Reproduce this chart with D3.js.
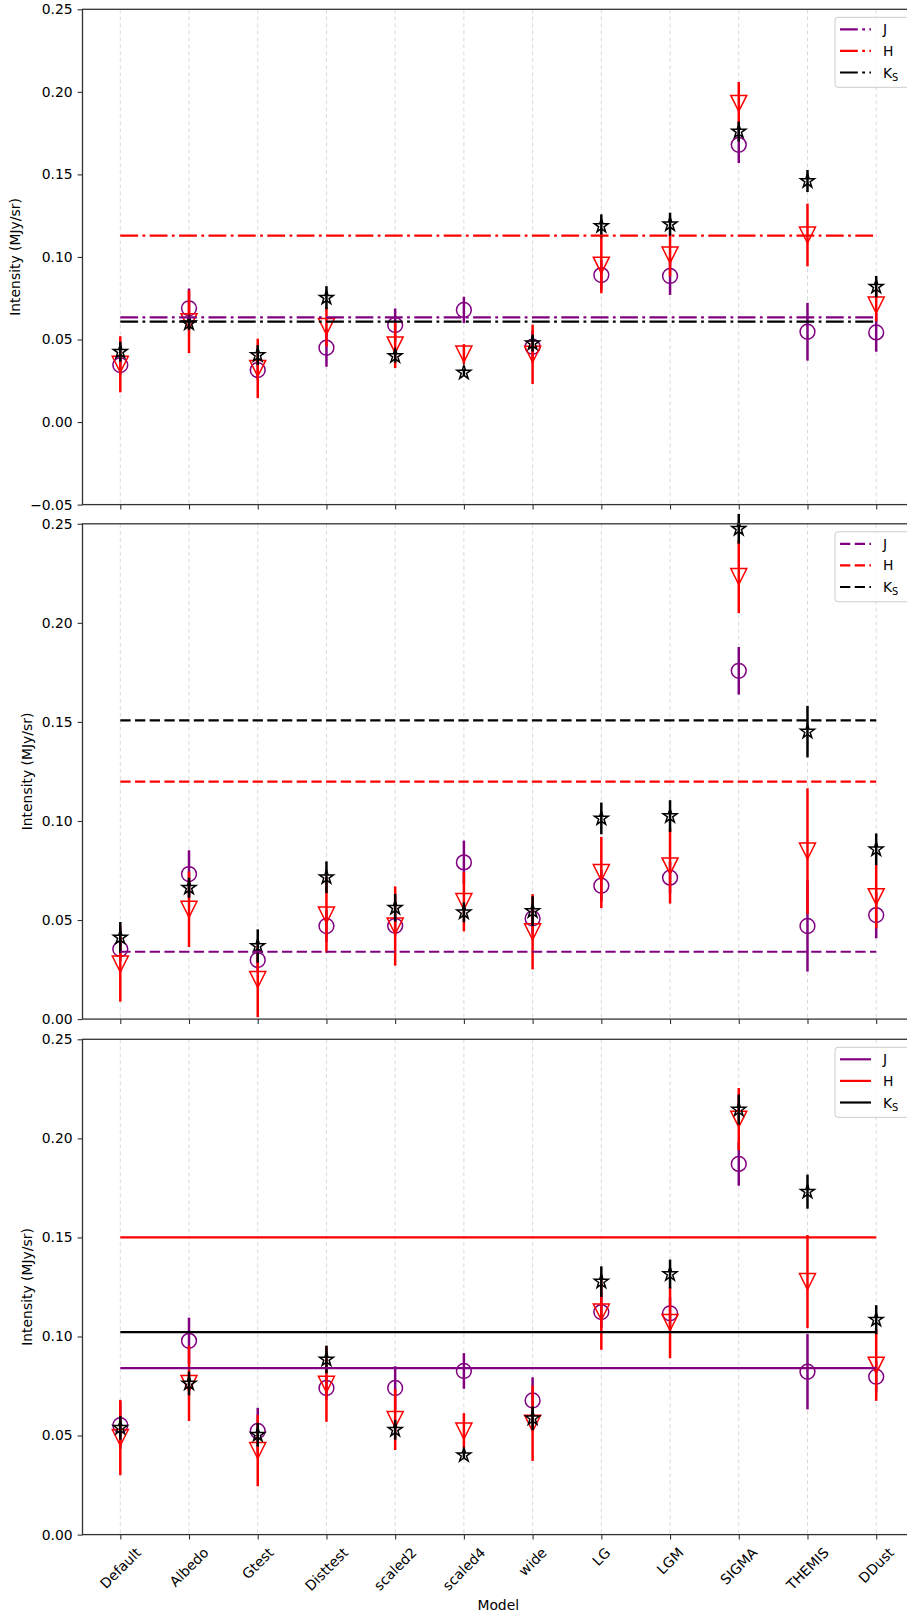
<!DOCTYPE html>
<html><head><meta charset="utf-8">
<script src="https://cdn.jsdelivr.net/npm/d3@7"></script>
<style>
body{margin:0;background:#fff;}
svg{display:block;}
text{font-family:"DejaVu Sans",sans-serif;fill:#000;}
</style>
</head><body>
<svg id="chart" width="907" height="1616"></svg>
<script>
// ---------- data ----------
const categories = ["Default","Albedo","Gtest","Disttest","scaled2","scaled4","wide","LG","LGM","SIGMA","THEMIS","DDust"];
const bandNames = ["J","H","K"];

// Panel 1 (dash-dot reference lines)
const p1J    = [0.0345,0.0689,0.0315,0.0450,0.0588,0.0679,0.0456,0.0890,0.0885,0.1679,0.0547,0.0543];
const p1Jerr = [0.006,0.012,0.006,0.0115,0.010,0.008,0.010,0.009,0.0115,0.011,0.0175,0.0117];
const p1H    = [0.0350,0.0608,0.0325,0.0578,0.0467,0.0412,0.0410,0.0950,0.1012,0.1930,0.1133,0.0709];
const p1Herr = [0.017,0.019,0.018,0.012,0.014,0.006,0.018,0.017,0.013,0.013,0.019,0.010];
const p1K    = [0.0426,0.0598,0.0406,0.0753,0.0400,0.0300,0.0477,0.1188,0.1198,0.1760,0.1460,0.0820];
const p1Kerr = [0.006,0.004,0.006,0.007,0.004,0.002,0.005,0.007,0.007,0.006,0.0067,0.0065];
const p1Ref  = [0.0634,0.1129,0.0608];
const p1Ticks = [-0.05,0,0.05,0.10,0.15,0.20,0.25];

// Panel 2 (dashed reference lines)
const p2J    = [0.0354,0.0732,0.0298,0.0470,0.0471,0.0791,0.0508,0.0673,0.0714,0.1758,0.0470,0.0525];
const p2Jerr = [0.006,0.012,0.006,0.008,0.005,0.011,0.008,0.008,0.008,0.012,0.023,0.0117];
const p2H    = [0.0278,0.0554,0.0200,0.0525,0.0470,0.0593,0.0441,0.0740,0.0773,0.2234,0.0848,0.0618];
const p2Herr = [0.019,0.019,0.019,0.019,0.020,0.015,0.019,0.018,0.019,0.0185,0.0317,0.016];
const p2K    = [0.0412,0.0663,0.0369,0.0716,0.0562,0.0539,0.0545,0.1013,0.1025,0.2475,0.1451,0.0857];
const p2Kerr = [0.0078,0.005,0.0084,0.008,0.007,0.005,0.0075,0.008,0.008,0.0075,0.013,0.008];
const p2Ref  = [0.0340,0.1199,0.1508];
const p2Ticks = [0,0.05,0.10,0.15,0.20,0.25];

// Panel 3 (solid reference lines)
const p3J    = [0.0552,0.0978,0.0523,0.0740,0.0740,0.0826,0.0677,0.1123,0.1117,0.1871,0.0822,0.0797];
const p3Jerr = [0.012,0.0117,0.0117,0.006,0.011,0.009,0.0117,0.008,0.008,0.011,0.019,0.008];
const p3H    = [0.0490,0.0763,0.0424,0.0759,0.0581,0.0523,0.0562,0.1123,0.1070,0.2097,0.1277,0.0855];
const p3Herr = [0.019,0.019,0.018,0.019,0.0154,0.009,0.019,0.019,0.018,0.0157,0.0235,0.018];
const p3K    = [0.0539,0.0763,0.0504,0.0884,0.0529,0.0401,0.0587,0.1277,0.1315,0.2145,0.1731,0.1085];
const p3Kerr = [0.006,0.006,0.006,0.007,0.005,0.002,0.006,0.0077,0.0073,0.0076,0.0086,0.0073];
const p3Ref  = [0.0840,0.1500,0.1022];
const p3Ticks = [0,0.05,0.10,0.15,0.20,0.25];

// ---------- layout / style ----------
const panels = [
  {vals:[p1J,p1H,p1K], errs:[p1Jerr,p1Herr,p1Kerr], ref:p1Ref, ticks:p1Ticks, domain:[-0.05,0.25], style:"dashdot", top:9.3, xlabels:false},
  {vals:[p2J,p2H,p2K], errs:[p2Jerr,p2Herr,p2Kerr], ref:p2Ref, ticks:p2Ticks, domain:[0,0.25], style:"dashed", top:523.8, xlabels:false},
  {vals:[p3J,p3H,p3K], errs:[p3Jerr,p3Herr,p3Kerr], ref:p3Ref, ticks:p3Ticks, domain:[0,0.25], style:"solid", top:1039.3, xlabels:true}
];
const xLeft = 82.5, xRight = 914, panelH = 495.3;
const FS = 13.9;
const colors = ["#800080","#ff0000","#000000"];
const dashes = {dashdot:"17.8,4.4,2.8,4.4", dashed:"10.3,4.4", solid:null};

const svg = d3.select("#chart");
const x = d3.scalePoint().domain(categories).range([xLeft, xRight]).padding(0.55);

panels.forEach(p => {
  const top = p.top, bottom = top + panelH;
  const y = d3.scaleLinear().domain(p.domain).range([bottom, top]);
  const g = svg.append("g");

  // grid
  g.append("g").selectAll("line").data(categories).join("line")
    .attr("x1", d => x(d)).attr("x2", d => x(d))
    .attr("y1", top).attr("y2", bottom)
    .attr("stroke", "#d6d6d6").attr("stroke-width", 0.9)
    .attr("stroke-dasharray", "4,3");

  // series
  p.vals.forEach((vals, s) => {
    const errs = p.errs[s];
    const data = categories.map((c, i) => ({c, v: vals[i], e: errs[i]}));
    const sg = g.append("g");
    sg.selectAll("line.err").data(data).join("line").attr("class","err")
      .attr("x1", d => x(d.c)).attr("x2", d => x(d.c))
      .attr("y1", d => y(d.v - d.e)).attr("y2", d => y(d.v + d.e))
      .attr("stroke", colors[s]).attr("stroke-width", 2.5);
    if (s === 0) {
      sg.selectAll("circle").data(data).join("circle")
        .attr("cx", d => x(d.c)).attr("cy", d => y(d.v)).attr("r", 7.4)
        .attr("fill", "none").attr("stroke", colors[s]).attr("stroke-width", 1.5);
    } else if (s === 1) {
      sg.selectAll("path").data(data).join("path")
        .attr("d", d => {
          const cx = x(d.c), cy = y(d.v), r = 8;
          return `M${cx-r},${cy-r}L${cx+r},${cy-r}L${cx},${cy+r}Z`;
        })
        .attr("fill", "none").attr("stroke", colors[s]).attr("stroke-width", 1.5);
    } else {
      const star = d3.symbol(d3.symbolStar, 60);
      sg.selectAll("path").data(data).join("path")
        .attr("d", star)
        .attr("transform", d => `translate(${x(d.c)},${y(d.v)})`)
        .attr("fill", "none").attr("stroke", colors[s]).attr("stroke-width", 1.5);
    }
  });

  // reference lines
  p.ref.forEach((r, s) => {
    const ln = g.append("line")
      .attr("x1", x(categories[0])).attr("x2", x(categories[categories.length-1]))
      .attr("y1", y(r)).attr("y2", y(r))
      .attr("stroke", colors[s]).attr("stroke-width", 2.2);
    if (dashes[p.style]) ln.attr("stroke-dasharray", dashes[p.style]);
  });

  // frame
  g.append("rect").attr("x", xLeft).attr("y", top).attr("width", xRight - xLeft).attr("height", panelH)
    .attr("fill", "none").attr("stroke", "#333").attr("stroke-width", 1.3);

  // y axis
  const ya = g.append("g").attr("transform", `translate(${xLeft},0)`)
    .call(d3.axisLeft(y).tickValues(p.ticks).tickFormat(d3.format(".2f")).tickSize(4.9).tickPadding(4.9).tickSizeOuter(0));
  ya.select(".domain").remove();
  ya.selectAll(".tick line").attr("stroke", "#333").attr("stroke-width", 1.1);
  ya.selectAll(".tick text").attr("font-size", FS).attr("font-family", "DejaVu Sans").attr("fill", "#000");
  let minLeft = Infinity;
  ya.selectAll(".tick text").each(function(){ const b = this.getBBox(); minLeft = Math.min(minLeft, xLeft + b.x); });

  g.append("text").text("Intensity (MJy/sr)")
    .attr("font-size", FS).attr("text-anchor", "middle").attr("dominant-baseline", "central")
    .attr("transform", `translate(${minLeft - 15},${(top + bottom) / 2}) rotate(-90)`);

  // x axis ticks
  const xa = g.append("g").attr("transform", `translate(0,${bottom})`)
    .call(d3.axisBottom(x).tickSize(4.9).tickSizeOuter(0).tickFormat(""));
  xa.select(".domain").remove();
  xa.selectAll(".tick line").attr("stroke", "#333").attr("stroke-width", 1.1);

  if (p.xlabels) {
    let maxB = bottom;
    categories.forEach(c => {
      const t = g.append("text").text(c).attr("font-size", FS)
        .attr("text-anchor", "middle").attr("dominant-baseline", "central");
      const w = t.node().getComputedTextLength();
      const hgt = (w + FS * 1.15) * Math.SQRT1_2;
      const cy = bottom + 9.8 + hgt / 2;
      t.attr("transform", `translate(${x(c)},${cy}) rotate(-45)`);
      maxB = Math.max(maxB, bottom + 9.8 + hgt);
    });
    g.append("text").text("Model").attr("font-size", FS)
      .attr("text-anchor", "middle").attr("dominant-baseline", "hanging")
      .attr("x", (xLeft + xRight) / 2).attr("y", maxB + 5.6);
  }

  // legend
  const lg = g.append("g");
  lg.append("rect").attr("x", 835).attr("y", top + 8).attr("width", 76).attr("height", 70).attr("rx", 3)
    .attr("fill", "white").attr("fill-opacity", 0.8).attr("stroke", "#cccccc").attr("stroke-width", 1);
  bandNames.forEach((b, s) => {
    const yy = top + 20 + s * 21.6;
    const ln = lg.append("line").attr("x1", 840).attr("x2", 871).attr("y1", yy).attr("y2", yy)
      .attr("stroke", colors[s]).attr("stroke-width", 2.2);
    if (dashes[p.style]) ln.attr("stroke-dasharray", dashes[p.style]);
    const t = lg.append("text").attr("x", 883).attr("y", yy).attr("font-size", FS).attr("dominant-baseline", "central");
    if (b === "K") {
      t.append("tspan").text("K");
      t.append("tspan").text("S").attr("font-size", FS * 0.7).attr("dy", 4);
    } else {
      t.text(b);
    }
  });
});
</script>
</body></html>
